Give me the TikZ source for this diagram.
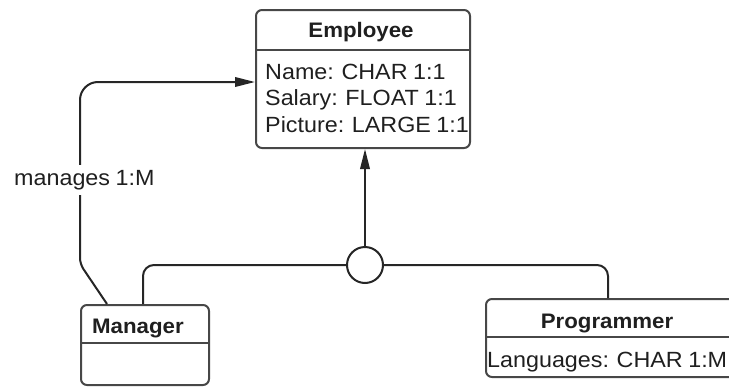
\documentclass[tikz,border=0pt]{standalone}
\usepackage{fontspec}
\newfontfamily\diagfont[FakeStretch=1.06,WordSpace=0.85]{Liberation Sans}
\usetikzlibrary{arrows.meta,calc}
\begin{document}
\begin{tikzpicture}[x=1pt,y=-1pt,
  box/.style={draw=black!72,line width=2pt,rounded corners=6pt,rectangle,
    anchor=north west,inner sep=0pt},
  divider/.style={draw=black!72,line width=2pt},
  conn/.style={draw=black!85,line width=2pt},
  tip/.style={-{Triangle[length=20pt,width=9.5pt]}},
  txt/.style={font=\diagfont\fontsize{22}{26}\selectfont,text=black!88,inner sep=0pt},
  head/.style={txt,font=\diagfont\bfseries\fontsize{21}{26}\selectfont},
  gencircle/.style={circle,draw=black!85,line width=2pt,fill=white,minimum size=36pt,inner sep=0pt}]
\clip (0,0) rectangle (729,386);

% class boxes
\node[box,minimum width=214pt,minimum height=138pt] (emp) at (255,9) {};
\node[box,minimum width=128pt,minimum height=80pt] (mgr) at (80,304) {};
\node[box,minimum width=260pt,minimum height=78pt] (prog) at (485,298) {};

% header separators
\draw[divider] (emp.west |- 0,50) -- (emp.east |- 0,50);
\draw[divider] (mgr.west |- 0,343) -- (mgr.east |- 0,343);
\draw[divider] (prog.west |- 0,337) -- (prog.east |- 0,337);

% class names and attributes
\node[head,anchor=base] (empname) at (361,37) {Employee};
\node[txt,anchor=base west] (empa1) at (265,79) {Name: CHAR 1:1};
\node[txt,anchor=base west] (empa2) at (265,105) {Salary: FLOAT 1:1};
\node[txt,anchor=base west] (empa3) at (265,132) {Picture: LARGE 1:1};
\node[head,anchor=base west] (mgrname) at (92,333) {Manager};
\node[head,anchor=base] (progname) at (607,328) {Programmer};
\node[txt,anchor=base west] (proga1) at (487,367) {Languages: CHAR 1:M};

% generalization
\node[gencircle] (gen) at (365,265) {};
\coordinate (mgrtop) at ($(mgr.north west)+(63,0)$);
\coordinate (progtop) at ($(prog.north west)+(123,0)$);
\draw[conn,rounded corners=11pt] (gen.west) -| (mgrtop);
\draw[conn,rounded corners=11pt] (gen.east) -| (progtop);
\draw[conn,tip] (gen.north) -- (gen.north |- emp.south);

% manages relationship
\coordinate (mgrlink) at ($(mgr.north west)+(27,0)$);
\coordinate (emplink) at (emp.west |- 0,82);
\draw[conn,tip] (mgrlink) [rounded corners=6pt] -- (80,264)
  [rounded corners=18pt] -- (80,82) -- (emplink);
\node[txt,anchor=base west,fill=white,inner ysep=5pt,inner xsep=0pt] (rel) at (14,185) {manages 1:M};
\end{tikzpicture}
\end{document}
